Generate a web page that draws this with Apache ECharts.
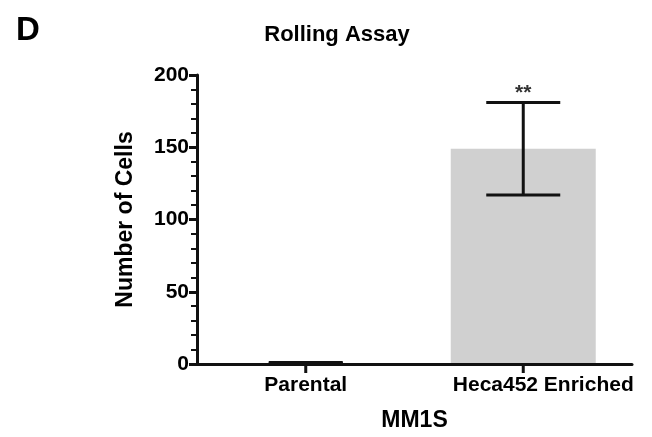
<!DOCTYPE html>
<html>
<head>
<meta charset="utf-8">
<script src="https://cdn.jsdelivr.net/npm/echarts@6/dist/echarts.min.js"></script>
<style>
  html, body { margin: 0; padding: 0; background: #fff; }
  #chart { width: 652px; height: 437px; }
</style>
</head>
<body>
<div id="chart"></div>
<script>
// data
var categories = ['Parental', 'Heca452 Enriched']
var means = [0.7, 149]
var errors = [0.4, 32]
var sigLabels = ['', '**']

var FONT = '"Liberation Sans", Arial, sans-serif'

var chart = echarts.init(document.getElementById('chart'), null, { renderer: 'canvas' })

var errData = categories.map(function (c, i) {
    return [i, means[i] - errors[i], means[i] + errors[i], sigLabels[i]]
})

function renderError(params, api) {
    var x = api.value(0)
    var lo = api.coord([x, api.value(1)])
    var hi = api.coord([x, api.value(2)])
    var base = api.coord([x, 0])
    var half = 37
    var style = { stroke: '#111', lineWidth: 3 }
    var children = [
        { type: 'line', shape: { x1: lo[0], y1: lo[1], x2: hi[0], y2: hi[1] }, style: style },
        { type: 'line', shape: { x1: lo[0] - half, y1: lo[1], x2: lo[0] + half, y2: lo[1] }, style: style },
        { type: 'line', shape: { x1: hi[0] - half, y1: hi[1], x2: hi[0] + half, y2: hi[1] }, style: style },
        // category tick under the axis
        { type: 'line', shape: { x1: base[0], y1: base[1], x2: base[0], y2: base[1] + 9 }, style: style }
    ]
    var sig = api.value(3)
    if (sig) {
        children.push({
            type: 'text',
            style: {
                text: sig, x: hi[0], y: hi[1] + 1,
                align: 'center', verticalAlign: 'bottom',
                font: 'bold 21px ' + FONT, fill: '#333'
            }
        })
    }
    return { type: 'group', children: children }
}

var labelStyle = { fontFamily: FONT, fontWeight: 'bold', fontSize: 21, color: '#000' }

chart.setOption({
    animation: false,
    backgroundColor: '#fff',
    title: [
        {
            text: 'Rolling Assay', left: 332, top: 19, textAlign: 'center',
            textStyle: { fontFamily: FONT, fontWeight: 'bold', fontSize: 22, color: '#000' }
        },
        {
            text: 'D', left: 11, top: 9,
            textStyle: { fontFamily: FONT, fontWeight: 'bold', fontSize: 33, color: '#000' }
        }
    ],
    grid: { left: 197, right: 20, top: 75, bottom: 72, containLabel: false },
    xAxis: {
        type: 'category',
        z: 10,
        data: categories,
        name: 'MM1S',
        nameLocation: 'middle',
        nameGap: 45,
        nameTextStyle: { fontFamily: FONT, fontWeight: 'bold', fontSize: 23, color: '#000' },
        axisLine: { lineStyle: { color: '#111', width: 3 } },
        axisTick: { show: false },
        axisLabel: {
            interval: 0, hideOverlap: false, margin: 11,
            formatter: function (v, i) { return i === 1 ? '{s|' + v + '}' : '{p|' + v + '}' },
            rich: {
                p: labelStyle,
                s: Object.assign({ padding: [0, 0, 0, 40] }, labelStyle)
            }
        }
    },
    yAxis: {
        type: 'value',
        z: 10,
        min: 0, max: 200, interval: 50,
        name: 'Number of Cells',
        nameLocation: 'middle',
        nameGap: 60,
        nameTextStyle: { fontFamily: FONT, fontWeight: 'bold', fontSize: 23, color: '#000' },
        axisLine: { show: true, lineStyle: { color: '#111', width: 3 } },
        axisTick: { show: true, length: 8, lineStyle: { color: '#111', width: 3 } },
        minorTick: { show: true, splitNumber: 5, length: 6, lineStyle: { color: '#111', width: 2 } },
        splitLine: { show: false },
        axisLabel: { margin: 8, fontFamily: FONT, fontWeight: 'bold', fontSize: 21, color: '#000' }
    },
    series: [
        {
            type: 'bar',
            data: means,
            barWidth: 145,
            itemStyle: { color: '#d0d0d0' },
            z: 1
        },
        {
            type: 'custom',
            data: errData,
            renderItem: renderError,
            clip: false,
            z: 5
        }
    ]
})
</script>
</body>
</html>
